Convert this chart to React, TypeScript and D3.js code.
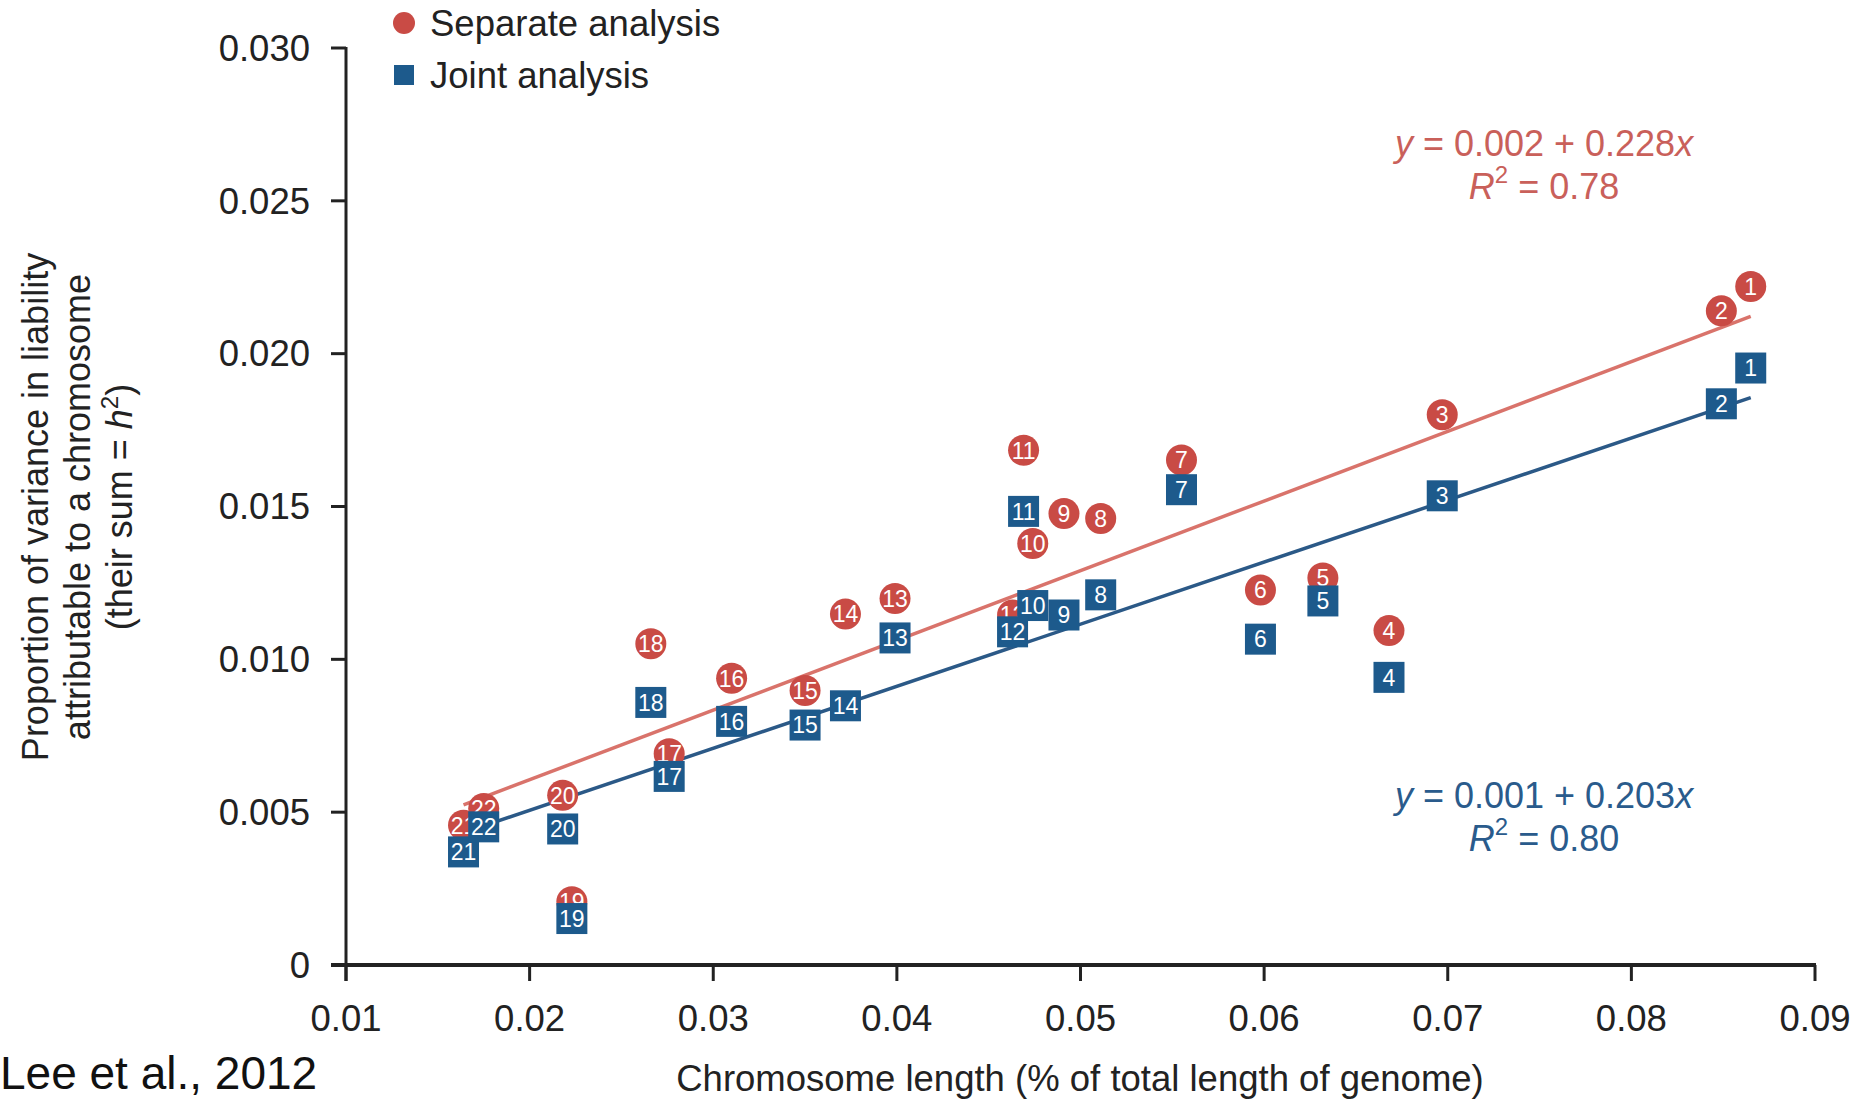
import React from "react";
import * as d3 from "d3";

// chromosome numbers and their length (fraction of genome)
const chromosomes = ["1", "2", "3", "4", "5", "6", "7", "8", "9", "10", "11",
    "12", "13", "14", "15", "16", "17", "18", "19", "20", "21", "22"];
const chromLength = [0.0865, 0.0849, 0.0697, 0.0668, 0.0632, 0.0598, 0.0555, 0.0511, 0.0491, 0.0474, 0.0469,
    0.0463, 0.0399, 0.0372, 0.0350, 0.0310, 0.0276, 0.0266, 0.0223, 0.0218, 0.0164, 0.0175];

// proportion of variance, separate analysis (red circles)
const separateVar = [0.0222, 0.0214, 0.0180, 0.01094, 0.01266, 0.01227, 0.01652, 0.01461, 0.01477, 0.01379, 0.01684,
    0.01145, 0.01199, 0.01148, 0.00898, 0.00938, 0.00691, 0.01051, 0.00207, 0.00555, 0.00457, 0.00512];
// joint analysis (blue squares)
const jointVar = [0.01953, 0.01836, 0.01535, 0.00941, 0.01191, 0.01066, 0.01555, 0.01211, 0.01145, 0.01176, 0.01484,
    0.0109, 0.0107, 0.00848, 0.00785, 0.00797, 0.00617, 0.00859, 0.00152, 0.00445, 0.0037, 0.00452];

// fitted lines as drawn (intercept, slope) and the printed equations
const separateFit = [0.0015, 0.228];
const jointFit = [0.001, 0.203];
const separateEq = ["0.002", "0.228", "0.78"];
const jointEq = ["0.001", "0.203", "0.80"];

const xTicks = [0.01, 0.02, 0.03, 0.04, 0.05, 0.06, 0.07, 0.08, 0.09];
const yTicks = [0, 0.005, 0.01, 0.015, 0.02, 0.025, 0.03];

const RED = "#c94b45";
const RED_LINE = "#d9736b";
const RED_TEXT = "#c9605a";
const BLUE = "#1d5a8c";
const BLUE_LINE = "#2b5987";
const BLUE_TEXT = "#2a5b8c";
const FONT = "'Liberation Sans', Arial, Helvetica, sans-serif";

function Equation({ cx, cy, eq, color }: { cx: number, cy: number, eq: string[], color: string }) {
    return (
        <g fontSize={36} fill={color} textAnchor="middle">
            <text x={cx} y={cy} dy="0.35em">
                <tspan fontStyle="italic">y</tspan> = {eq[0]} + {eq[1]}<tspan fontStyle="italic">x</tspan>
            </text>
            <text x={cx} y={cy + 43} dy="0.35em">
                <tspan fontStyle="italic">R</tspan><tspan fontSize={24} dy={-16}>2</tspan><tspan dy={16}> = {eq[2]}</tspan>
            </text>
        </g>
    );
}

export default function App() {
    const width = 1872, height = 1099;

    const x = d3.scaleLinear().domain([0.01, 0.09]).range([346, 1815]);
    const y = d3.scaleLinear().domain([0, 0.03]).range([965, 48]);

    const xExt = d3.extent(chromLength) as [number, number];
    const line = d3.line<number[]>().x(d => x(d[0])).y(d => y(d[1]));
    const fitPts = (fit: number[]) => xExt.map(v => [v, fit[0] + fit[1] * v]);

    const r = 15.5, sq = 31;

    return (
        <svg width={width} height={height} style={{ position: "absolute", left: 0, top: 0, background: "#fff" }}
            fontFamily={FONT}>
            {/* axes */}
            <line x1={x(0.01)} x2={x(0.01)} y1={y(0.03) - 1} y2={y(0) + 16} stroke="#222" strokeWidth={3} />
            <line x1={x(0.01) - 15} x2={x(0.09) + 1} y1={y(0)} y2={y(0)} stroke="#222" strokeWidth={4} />
            {yTicks.map(t => (
                <g key={"y" + t}>
                    <line x1={x(0.01) - 15} x2={x(0.01)} y1={y(t)} y2={y(t)} stroke="#222" strokeWidth={3} />
                    <text x={310} y={y(t)} dy="0.35em" textAnchor="end" fontSize={36.5} fill="#222">
                        {t === 0 ? "0" : t.toFixed(3)}
                    </text>
                </g>
            ))}
            {xTicks.map(t => (
                <g key={"x" + t}>
                    <line x1={x(t)} x2={x(t)} y1={y(0)} y2={y(0) + 16} stroke="#222" strokeWidth={3} />
                    <text x={x(t)} y={1018} dy="0.35em" textAnchor="middle" fontSize={36.5} fill="#222">
                        {t.toFixed(2)}
                    </text>
                </g>
            ))}

            {/* axis titles */}
            <text x={1080} y={1078} dy="0.35em" textAnchor="middle" fontSize={36.5} fill="#222">
                Chromosome length (% of total length of genome)
            </text>
            <g transform="translate(0,507) rotate(-90)" fontSize={36} fill="#222" textAnchor="middle">
                <text x={0} y={35} dy="0.35em">Proportion of variance in liability</text>
                <text x={0} y={77} dy="0.35em">attributable to a chromosome</text>
                <text x={0} y={119} dy="0.35em">
                    (their sum = <tspan fontStyle="italic">h</tspan>
                    <tspan fontSize={24} dy={-14}>2</tspan>
                    <tspan dy={14}>)</tspan>
                </text>
            </g>

            <text x={0} y={1089} fontSize={46} fill="#111">Lee et al., 2012</text>

            {/* legend */}
            <circle cx={404} cy={23} r={11} fill={RED} />
            <text x={430} y={23} dy="0.35em" fontSize={36.5} fill="#222">Separate analysis</text>
            <rect x={404 - 10} y={75 - 10} width={20} height={20} fill={BLUE} />
            <text x={430} y={75} dy="0.35em" fontSize={36.5} fill="#222">Joint analysis</text>

            {/* fitted lines */}
            <path d={line(fitPts(separateFit)) || ""} fill="none" stroke={RED_LINE} strokeWidth={3.5} />
            <path d={line(fitPts(jointFit)) || ""} fill="none" stroke={BLUE_LINE} strokeWidth={3.5} />

            {/* separate analysis markers */}
            {chromosomes.map((c, i) => (
                <g key={"s" + c} transform={`translate(${x(chromLength[i])},${y(separateVar[i])})`}>
                    <circle r={r} fill={RED} />
                    <text dy="0.36em" textAnchor="middle" fontSize={23} fill="#fff">{c}</text>
                </g>
            ))}
            {/* joint analysis markers */}
            {chromosomes.map((c, i) => (
                <g key={"j" + c} transform={`translate(${x(chromLength[i])},${y(jointVar[i])})`}>
                    <rect x={-sq / 2} y={-sq / 2} width={sq} height={sq} fill={BLUE} />
                    <text dy="0.36em" textAnchor="middle" fontSize={23} fill="#fff">{c}</text>
                </g>
            ))}

            {/* equations */}
            <Equation cx={1544} cy={143} eq={separateEq} color={RED_TEXT} />
            <Equation cx={1544} cy={795} eq={jointEq} color={BLUE_TEXT} />
        </svg>
    );
}
